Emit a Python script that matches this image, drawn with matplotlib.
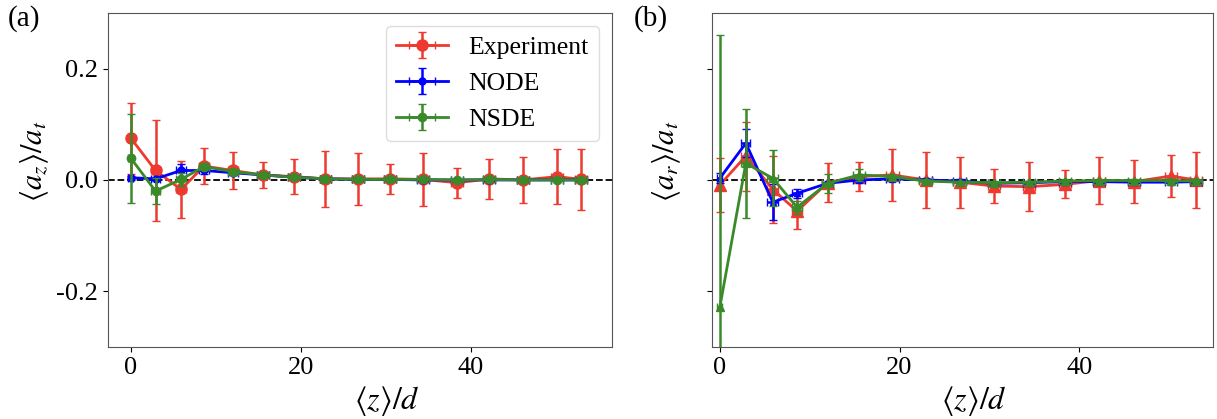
import numpy as np
import matplotlib.pyplot as plt

plt.rcParams['font.family'] = ['Liberation Serif', 'DejaVu Serif']
plt.rcParams['mathtext.fontset'] = 'stix'

# bin centres <z>/d and their spread
z = [0, 2.9, 5.9, 8.6, 12.0, 15.5, 19.2, 22.9, 26.7, 30.5, 34.4, 38.4, 42.2, 46.1, 50.2, 53.0]
z_err = [0.3, 0.5, 0.6, 0.6, 0.6, 0.7, 0.7, 0.7, 0.7, 0.7, 0.7, 0.7, 0.7, 0.7, 0.7, 0.7]

# panel (a): <a_z>/a_t
az_exp = [0.075, 0.017, -0.017, 0.025, 0.017, 0.009, 0.006, 0.002, 0.002, 0.002, 0.001, -0.005, 0.002, 0.0, 0.006, 0.001]
az_exp_err = [0.064, 0.090, 0.051, 0.033, 0.034, 0.023, 0.031, 0.050, 0.047, 0.027, 0.048, 0.027, 0.036, 0.042, 0.050, 0.055]
az_node = [0.004, 0.002, 0.017, 0.017, 0.013, 0.009, 0.005, 0.002, 0.001, 0.001, 0.0, 0.0, 0.0, 0.0, 0.0, 0.0]
az_node_err = [0.004, 0.004, 0.012, 0.006, 0.004, 0.003, 0.003, 0.002, 0.002, 0.002, 0.002, 0.002, 0.002, 0.002, 0.002, 0.002]
az_nsde = [0.039, -0.020, 0.001, 0.024, 0.015, 0.009, 0.005, 0.002, 0.001, 0.001, 0.001, 0.0, 0.001, 0.0, 0.0, 0.0]
az_nsde_err = [0.080, 0.023, 0.012, 0.006, 0.004, 0.003, 0.003, 0.002, 0.002, 0.002, 0.002, 0.002, 0.002, 0.002, 0.002, 0.002]

# panel (b): <a_r>/a_t
ar_exp = [-0.009, 0.043, -0.017, -0.056, -0.005, 0.006, 0.009, 0.0, -0.004, -0.011, -0.012, -0.008, -0.001, -0.003, 0.007, 0.0]
ar_exp_err = [0.048, 0.062, 0.060, 0.033, 0.035, 0.026, 0.047, 0.050, 0.046, 0.030, 0.044, 0.025, 0.043, 0.039, 0.037, 0.051]
ar_node = [0.003, 0.066, -0.040, -0.024, -0.006, 0.0, 0.002, 0.0, -0.002, -0.006, -0.005, -0.003, -0.003, -0.004, -0.004, -0.003]
ar_node_err = [0.009, 0.025, 0.032, 0.008, 0.005, 0.004, 0.003, 0.003, 0.003, 0.003, 0.003, 0.003, 0.003, 0.003, 0.003, 0.003]
ar_nsde = [-0.229, 0.030, 0.003, -0.049, -0.006, 0.009, 0.006, -0.002, -0.004, -0.005, -0.004, -0.002, -0.001, -0.001, -0.001, -0.002]
ar_nsde_err = [0.49, 0.098, 0.050, 0.012, 0.017, 0.010, 0.004, 0.003, 0.003, 0.003, 0.003, 0.003, 0.003, 0.003, 0.003, 0.003]

red = '#ee3a2e'
blue = '#0000ff'
green = '#3a8a2a'

fig = plt.figure(figsize=(12.17, 4.19), dpi=100)
ax1 = fig.add_axes([0.0887, 0.172, 0.414, 0.797])
ax2 = fig.add_axes([0.5848, 0.172, 0.412, 0.797])


def draw(ax, exp, exp_err, node, node_err, nsde, nsde_err, mk, ms_big):
    ax.axhline(0, color='k', ls='--', lw=1.3, zorder=1)
    ax.errorbar(z, exp, yerr=exp_err, xerr=z_err, color=red, marker=mk, ms=ms_big,
                lw=2, capsize=3, elinewidth=1.8, label='Experiment', zorder=2)
    ax.errorbar(z, node, yerr=node_err, xerr=z_err, color=blue, marker=mk, ms=5,
                lw=2, capsize=3, elinewidth=1.8, label='NODE', zorder=3)
    ax.errorbar(z, nsde, yerr=nsde_err, xerr=z_err, color=green, marker=mk, ms=6,
                lw=2, capsize=3, elinewidth=1.8, label='NSDE', zorder=4)
    ax.set_ylim(-0.3, 0.3)
    ax.set_yticks([-0.2, 0.0, 0.2])
    ax.set_xticks([0, 20, 40])
    ax.tick_params(labelsize=19)
    ax.set_xlabel(r'$\langle z\rangle/d$', fontsize=23)
    ax.yaxis.label.set_y(0.555)
    for s in ax.spines.values():
        s.set_color('#555555')


ax1.set_ylabel(r'$\langle a_z\rangle/a_t$', fontsize=22)
ax2.set_ylabel(r'$\langle a_r\rangle/a_t$', fontsize=22)
draw(ax1, az_exp, az_exp_err, az_node, az_node_err, az_nsde, az_nsde_err, 'o', 8)
draw(ax2, ar_exp, ar_exp_err, ar_node, ar_node_err, ar_nsde, ar_nsde_err, '^', 8)

ax1.set_xlim(-2.7, 56.6)
ax2.set_xlim(-0.9, 54.9)
ax1.xaxis.label.set_x(0.554)
ax2.xaxis.label.set_x(0.523)
ax1.set_yticklabels(['-0.2', '0.0', '0.2'])
ax2.set_yticklabels([])
ax2.yaxis.labelpad = 14

ax1.legend(loc='upper right', fontsize=18.5, framealpha=1, edgecolor='#dddddd')

fig.text(0.006, 0.988, '(a)', fontsize=21, va='top')
fig.text(0.521, 0.988, '(b)', fontsize=21, va='top')

fig.savefig('out.png', dpi=100)
